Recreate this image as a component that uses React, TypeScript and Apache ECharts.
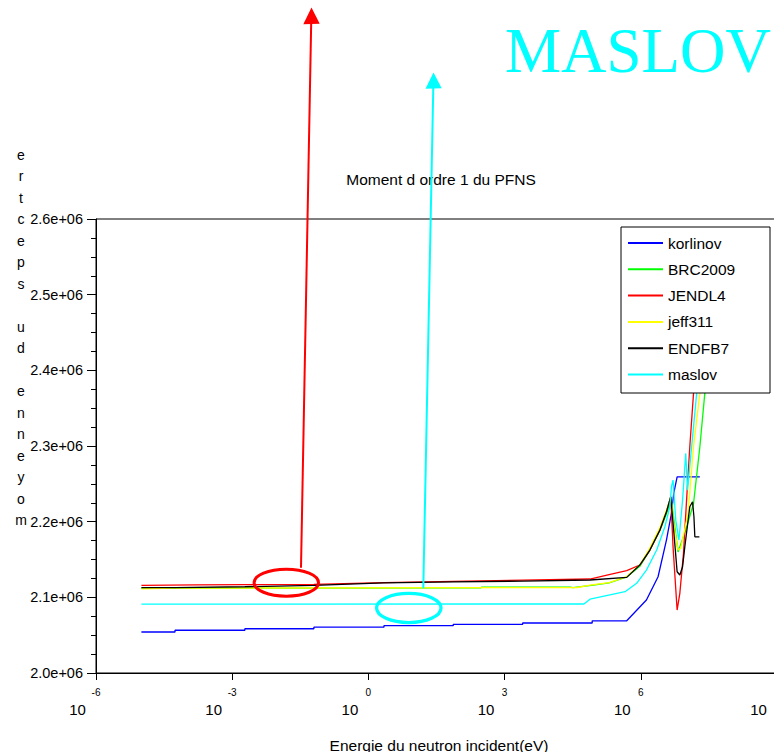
import React, { useEffect, useRef } from "react";
import * as echarts from "echarts";

// ---------- data (energies in eV, mean energies in eV) ----------
const seriesNames = ["korlinov", "BRC2009", "JENDL4", "jeff311", "ENDFB7", "maslov"];
const seriesColors = ["#0000ff", "#00ff00", "#ff0000", "#ffff00", "#000000", "#00ffff"];

const korlinovE = [1e-5, 5.5e-5, 5.5e-5, 1.9e-3, 1.9e-3, 0.063, 0.063, 2.2, 2.2, 74, 74, 2500, 2500, 8.5e4, 8.5e4, 4.9e5, 1.33e6, 2.4e6, 3.67e6, 4.73e6, 5.32e6, 6.31e6, 2.0e7];
const korlinovV = [2.0542e6, 2.0542e6, 2.0565e6, 2.0565e6, 2.0585e6, 2.0585e6, 2.0605e6, 2.0605e6, 2.0625e6, 2.0625e6, 2.0643e6, 2.0643e6, 2.0661e6, 2.0661e6, 2.069e6, 2.069e6, 2.0964e6, 2.1272e6, 2.1757e6, 2.211e6, 2.2374e6, 2.2593e6, 2.2593e6];

const brcE = [1e-5, 5.5e-5, 6e-5, 300, 310, 2.8e4, 3.2e4, 9e4, 2.0e5, 4.9e5, 9.5e5, 1.58e6, 2.63e6, 3.67e6, 4.73e6, 6.61e6, 9.77e6, 1.45e7, 2.0e7, 2.57e7, 3.16e7];
const brcV = [2.112e6, 2.112e6, 2.1122e6, 2.1126e6, 2.1135e6, 2.1135e6, 2.1129e6, 2.116e6, 2.119e6, 2.127e6, 2.141e6, 2.162e6, 2.188e6, 2.21e6, 2.228e6, 2.16e6, 2.189e6, 2.224e6, 2.299e6, 2.3695e6, 2.47e6];

const jendlE = [1e-5, 1.6e-4, 1.9e-3, 0.063, 2.2, 74, 2500, 7.6e4, 2.0e5, 4.9e5, 9.5e5, 1.58e6, 2.63e6, 3.67e6, 4.57e6, 5.13e6, 6.31e6, 7.24e6, 8.71e6, 1.05e7, 1.2e7, 1.45e7, 2.0e7];
const jendlV = [2.1158e6, 2.1165e6, 2.1168e6, 2.1172e6, 2.1195e6, 2.121e6, 2.1228e6, 2.1242e6, 2.13e6, 2.1352e6, 2.1427e6, 2.1625e6, 2.1889e6, 2.2131e6, 2.2329e6, 2.1668e6, 2.0832e6, 2.1053e6, 2.1581e6, 2.2417e6, 2.299e6, 2.3695e6, 2.5e6];

const jeffE = [1e-5, 5.5e-5, 4.0e4, 7.6e4, 2.0e5, 4.9e5, 9.5e5, 1.58e6, 2.63e6, 3.67e6, 4.57e6, 5.5e6, 6.61e6, 7.59e6, 1.1e7, 1.45e7, 2.0e7, 2.57e7];
const jeffV = [2.1112e6, 2.1122e6, 2.113e6, 2.116e6, 2.1195e6, 2.1275e6, 2.1427e6, 2.165e6, 2.192e6, 2.215e6, 2.232e6, 2.19e6, 2.1625e6, 2.165e6, 2.211e6, 2.299e6, 2.3695e6, 2.47e6];

const endfE = [1e-5, 5.5e-5, 1.9e-3, 0.063, 2.2, 74, 2500, 7.6e4, 4.9e5, 9.5e5, 1.58e6, 2.63e6, 3.67e6, 4.57e6, 5.37e6, 6.31e6, 7.24e6, 8.32e6, 9.33e6, 1.2e7, 1.38e7, 1.48e7, 1.55e7, 1.95e7];
const endfV = [2.1128e6, 2.1128e6, 2.114e6, 2.1158e6, 2.119e6, 2.1203e6, 2.1215e6, 2.1229e6, 2.1264e6, 2.1427e6, 2.1625e6, 2.1889e6, 2.2131e6, 2.2329e6, 2.1845e6, 2.1338e6, 2.1295e6, 2.1404e6, 2.1668e6, 2.2197e6, 2.2263e6, 2.2065e6, 2.18e6, 2.18e6];

const maslovE = [1e-5, 5.6e4, 7.6e4, 4.5e5, 8.1e5, 1.33e6, 2.24e6, 3.39e6, 4.37e6, 4.73e6, 5.13e6, 5.89e6, 6.92e6, 8.32e6, 9.77e6, 1.07e7, 1.7e7, 2.24e7];
const maslovV = [2.091e6, 2.0912e6, 2.0975e6, 2.1074e6, 2.1185e6, 2.136e6, 2.1625e6, 2.1933e6, 2.2197e6, 2.2461e6, 2.255e6, 2.2021e6, 2.1757e6, 2.2285e6, 2.2902e6, 2.2417e6, 2.3695e6, 2.47e6];

const seriesE = [korlinovE, brcE, jendlE, jeffE, endfE, maslovE];
const seriesV = [korlinovV, brcV, jendlV, jeffV, endfV, maslovV];

const xExpMin = -6;
const xExpMax = 9;
const xExpStep = 3;
const yMin = 2.0e6;
const yMax = 2.6e6;
const yStep = 1e5;

const chartTitle = "Moment d ordre 1 du PFNS";
const xTitle = "Energie du neutron incident(eV)";
const yTitle = "moyenne du spectre";
const bigLabel = "MASLOV";

const FONT = "'Liberation Sans', Arial, Helvetica, sans-serif";

export default function App() {
  const ref = useRef<HTMLDivElement | null>(null);

  useEffect(() => {
    document.body.style.margin = "0";
    if (!ref.current) return;
    const chart = echarts.init(ref.current, undefined, { renderer: "svg" });

    const series = seriesNames.map((name, i) => ({
      name,
      type: "line",
      data: seriesE[i].map((e, j) => [Math.log10(e), seriesV[i][j]]),
      symbol: "none",
      showSymbol: false,
      lineStyle: { color: seriesColors[i], width: 1.3 },
      itemStyle: { color: seriesColors[i] },
      z: 2 + i * 0.01,
    }));

    const yLetters = yTitle.split("").reverse().join("\n");

    chart.setOption({
      animation: false,
      backgroundColor: "#ffffff",
      grid: {
        left: 96,
        top: 219,
        width: 681,
        height: 454,
        outerBoundsMode: "none",
        containLabel: false,
        show: true,
        borderColor: "#000",
        borderWidth: 1,
        backgroundColor: "transparent",
      },
      xAxis: {
        type: "value",
        min: xExpMin,
        max: xExpMax,
        interval: xExpStep,
        axisLine: { show: true, onZero: false, lineStyle: { color: "#000", width: 1 } },
        axisTick: { show: true, inside: false, length: 7, lineStyle: { color: "#000" } },
        splitLine: { show: false },
        axisLabel: {
          margin: 12,
          color: "#000",
          fontFamily: FONT,
          formatter: (v: number) => `{e|${v}}\n{b|10}{g| }`,
          rich: {
            e: { fontSize: 10, lineHeight: 14, fontFamily: FONT, color: "#000" },
            b: { fontSize: 15, lineHeight: 20, fontFamily: FONT, color: "#000" },
            g: { width: 37, fontSize: 15, lineHeight: 20 },
          },
        },
      },
      yAxis: {
        type: "value",
        min: yMin,
        max: yMax,
        interval: yStep,
        axisLine: { show: true, onZero: false, lineStyle: { color: "#000", width: 1 } },
        axisTick: { show: true, inside: false, length: 9, lineStyle: { color: "#000" } },
        minorTick: { show: true, splitNumber: 4, length: 5, lineStyle: { color: "#000" } },
        splitLine: { show: false },
        axisLabel: {
          margin: 13,
          color: "#000",
          fontSize: 14.5,
          fontFamily: FONT,
          formatter: (v: number) => (v / 1e6).toFixed(1) + "e+06",
        },
      },
      legend: {
        orient: "vertical",
        left: 628,
        top: 235,
        icon: "rect",
        itemWidth: 35,
        itemHeight: 2,
        itemGap: 10.3,
        padding: 0,
        z: 6,
        data: seriesNames,
        textStyle: { fontSize: 15.5, lineHeight: 16, color: "#000", fontFamily: FONT },
      },
      graphic: [
        {
          type: "rect",
          z: 5,
          shape: { x: 621, y: 227, width: 149, height: 166 },
          style: { fill: "#ffffff", stroke: "#000", lineWidth: 1 },
        },
        {
          type: "text",
          z: 5,
          x: 441,
          y: 179,
          style: { text: chartTitle, fontSize: 15.5, fontFamily: FONT, fill: "#000", align: "center", verticalAlign: "middle" },
        },
        {
          type: "text",
          z: 5,
          x: 439,
          y: 745,
          style: { text: xTitle, fontSize: 15.5, fontFamily: FONT, fill: "#000", align: "center", verticalAlign: "middle" },
        },
        {
          type: "text",
          z: 5,
          x: 21,
          y: 144,
          style: { text: yLetters, fontSize: 14, lineHeight: 21.5, fontFamily: FONT, fill: "#000", align: "center", verticalAlign: "top" },
        },
        {
          type: "text",
          z: 5,
          x: 505,
          y: 51,
          style: { text: bigLabel, fontSize: 63, fontFamily: "'Liberation Serif', 'Times New Roman', serif", fill: "#00ffff", align: "left", verticalAlign: "middle" },
        },
        {
          type: "ellipse",
          z: 10,
          shape: { cx: 286.3, cy: 582.7, rx: 32.2, ry: 13.5 },
          style: { fill: "none", stroke: "#ff0000", lineWidth: 3 },
        },
        {
          type: "ellipse",
          z: 10,
          shape: { cx: 408.8, cy: 608, rx: 32.2, ry: 14.6 },
          style: { fill: "none", stroke: "#00ffff", lineWidth: 3.3 },
        },
        {
          type: "line",
          z: 10,
          shape: { x1: 301, y1: 567.7, x2: 311.2, y2: 22 },
          style: { stroke: "#ff0000", lineWidth: 2 },
        },
        {
          type: "polygon",
          z: 10,
          shape: { points: [[311.5, 7.5], [303.3, 24.3], [319.7, 23.7]] },
          style: { fill: "#ff0000" },
        },
        {
          type: "line",
          z: 10,
          shape: { x1: 423.3, y1: 588.3, x2: 433.3, y2: 87 },
          style: { stroke: "#00ffff", lineWidth: 2 },
        },
        {
          type: "polygon",
          z: 10,
          shape: { points: [[433.5, 72.5], [425.5, 88.7], [441.7, 88.3]] },
          style: { fill: "#00ffff" },
        },
      ],
      series,
    });

    return () => chart.dispose();
  }, []);

  return (
    <div
      ref={ref}
      style={{ position: "fixed", left: 0, top: 0, width: 774, height: 752, background: "#fff" }}
    />
  );
}
